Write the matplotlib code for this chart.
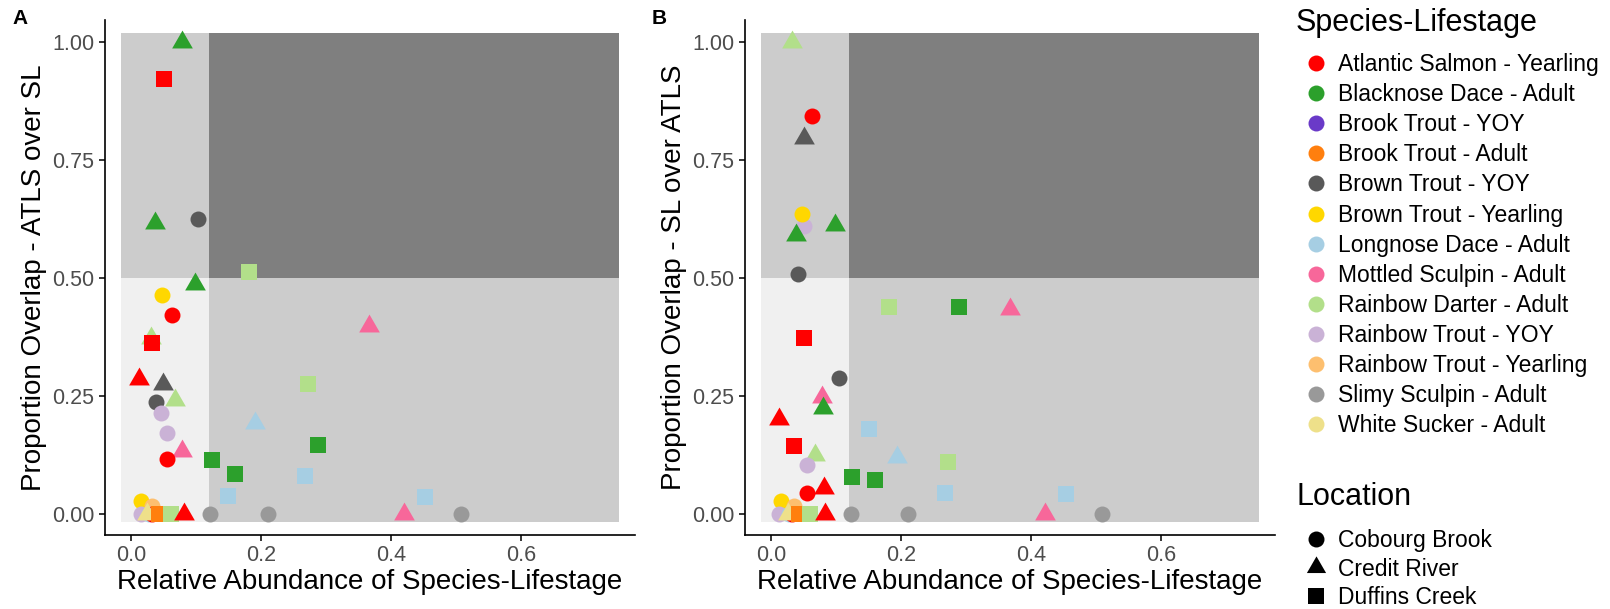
import numpy as np
import matplotlib
matplotlib.use("Agg")
from matplotlib import pyplot as plt
from matplotlib.path import Path
from matplotlib.lines import Line2D

plt.rcParams['font.family'] = ['Liberation Sans', 'DejaVu Sans']

# species-lifestage groups and their colours
groups = ['Atlantic Salmon - Yearling', 'Blacknose Dace - Adult', 'Brook Trout - YOY',
          'Brook Trout - Adult', 'Brown Trout - YOY', 'Brown Trout - Yearling',
          'Longnose Dace - Adult', 'Mottled Sculpin - Adult', 'Rainbow Darter - Adult',
          'Rainbow Trout - YOY', 'Rainbow Trout - Yearling', 'Slimy Sculpin - Adult',
          'White Sucker - Adult']
group_cols = ['#FF0000', '#2CA02C', '#6A3AC8', '#FF7F0E', '#595959', '#FFD700',
              '#A6CEE3', '#F7679A', '#B2DF8A', '#CAB2D6', '#FDBF6F', '#999999',
              '#EEE08A']
sites = ['Cobourg Brook', 'Credit River', 'Duffins Creek']

# group index, site index (0 Cobourg, 1 Credit, 2 Duffins), abundance, overlap
a_grp = [1, 0, 1, 4, 8, 1, 5, 0, 8, 0, 7, 0, 4, 8, 4, 8, 9, 9, 6, 1, 7, 0, 1, 1,
         6, 6, 5, 10, 9, 6, 0, 12, 3, 8, 0, 11, 11, 7, 6, 11]
a_site = [1, 2, 1, 0, 2, 1, 0, 0, 1, 2, 1, 1, 1, 2, 0, 1, 0, 0, 1, 2, 1, 0, 2, 2,
          2, 2, 0, 0, 0, 0, 0, 1, 2, 2, 1, 0, 0, 1, 2, 0]
a_x = [0.078, 0.050, 0.0375, 0.103, 0.181, 0.099, 0.047, 0.0625, 0.031, 0.033,
       0.366, 0.012, 0.049, 0.272, 0.039, 0.067, 0.046, 0.056, 0.191, 0.287,
       0.079, 0.055, 0.124, 0.160, 0.267, 0.149, 0.016, 0.033, 0.015, 0.028,
       0.033, 0.025, 0.0425, 0.0615, 0.082, 0.122, 0.210, 0.420, 0.452, 0.508]
a_y = [1.00, 0.922, 0.617, 0.625, 0.513, 0.486, 0.463, 0.421, 0.372, 0.361,
       0.397, 0.285, 0.274, 0.275, 0.237, 0.240, 0.213, 0.172, 0.192, 0.146,
       0.132, 0.115, 0.114, 0.085, 0.080, 0.0375, 0.027, 0.016, 0.0, 0.0,
       0.0, 0.0, 0.0, 0.0, 0.0, 0.0, 0.0, 0.0, 0.035, 0.0]

b_grp = [8, 0, 4, 9, 5, 1, 1, 4, 8, 1, 7, 0, 4, 7, 1, 0, 6, 0, 8, 6, 8, 9, 1, 1,
         0, 0, 6, 5, 10, 9, 6, 0, 12, 3, 8, 0, 11, 11, 7, 6, 11]
b_site = [1, 0, 1, 0, 0, 1, 1, 0, 2, 2, 1, 2, 0, 1, 1, 1, 2, 2, 1, 1, 2, 0, 2, 2,
          1, 0, 2, 0, 0, 0, 0, 0, 1, 2, 2, 1, 0, 0, 1, 2, 0]
b_x = [0.032, 0.063, 0.050, 0.051, 0.048, 0.038, 0.099, 0.041, 0.182, 0.289,
       0.367, 0.050, 0.104, 0.0785, 0.080, 0.0128, 0.150, 0.035, 0.067, 0.194,
       0.272, 0.056, 0.125, 0.160, 0.081, 0.056, 0.268, 0.016, 0.035, 0.013,
       0.028, 0.033, 0.026, 0.0425, 0.060, 0.0835, 0.123, 0.210, 0.422, 0.453,
       0.509]
b_y = [1.00, 0.843, 0.797, 0.610, 0.634, 0.590, 0.612, 0.508, 0.439, 0.439,
       0.434, 0.372, 0.287, 0.248, 0.224, 0.200, 0.179, 0.144, 0.124, 0.120,
       0.110, 0.103, 0.078, 0.071, 0.054, 0.045, 0.043, 0.027, 0.016, 0.0,
       0.0, 0.0, 0.0, 0.0, 0.0, 0.0, 0.0, 0.0, 0.0, 0.042, 0.0]

# background zones: abundance cut and overlap cut
x_cut, y_cut = 0.12, 0.5
zone_x = (-0.015, 0.75)
zone_y = (-0.017, 1.018)

# equilateral triangle centred on its centroid
tri = Path([(-1, -0.577), (1, -0.577), (0, 1.155), (-1, -0.577)], closed=True)
site_marker = ['o', tri, 's']
site_size = [132, 296, 144]

W, H = 1610, 609


def draw_panel(ax, grp, site, x, y, ylab):
    x0, x1 = zone_x
    y0, y1 = zone_y
    ax.fill_between([x0, x_cut], y0, y_cut, color='#F0F0F0', lw=0, zorder=0)
    ax.fill_between([x_cut, x1], y0, y_cut, color='#CCCCCC', lw=0, zorder=0)
    ax.fill_between([x0, x_cut], y_cut, y1, color='#CCCCCC', lw=0, zorder=0)
    ax.fill_between([x_cut, x1], y_cut, y1, color='#7F7F7F', lw=0, zorder=0)
    for g, s, xi, yi in zip(grp, site, x, y):
        ax.scatter(xi, yi, marker=site_marker[s], s=site_size[s],
                   color=group_cols[g], linewidths=0, zorder=2)
    ax.set_xlim(-0.040, 0.775)
    ax.set_ylim(-0.045, 1.046)
    ax.set_xticks([0.0, 0.2, 0.4, 0.6])
    ax.set_xticklabels(['0.0', '0.2', '0.4', '0.6'])
    ax.set_yticks([0, 0.25, 0.5, 0.75, 1.0])
    ax.set_yticklabels(['0.00', '0.25', '0.50', '0.75', '1.00'])
    ax.tick_params(labelsize=15.5, labelcolor='#4D4D4D', color='black',
                   length=4, width=1.1)
    for side in ['top', 'right']:
        ax.spines[side].set_visible(False)
    for side in ['left', 'bottom']:
        ax.spines[side].set_linewidth(1.2)
    ax.set_xlabel('Relative Abundance of Species-Lifestage', fontsize=20, labelpad=2)
    ax.set_ylabel(ylab, fontsize=20, labelpad=4)


fig = plt.figure(figsize=(W / 100, H / 100), dpi=100)
ax_a = fig.add_axes([105 / W, 1 - 535 / H, 530 / W, 515 / H])
ax_b = fig.add_axes([745 / W, 1 - 535 / H, 530 / W, 515 / H])
draw_panel(ax_a, a_grp, a_site, a_x, a_y, 'Proportion Overlap - ATLS over SL')
draw_panel(ax_b, b_grp, b_site, b_x, b_y, 'Proportion Overlap - SL over ATLS')
fig.text(12 / W, 1 - 9 / H, 'A', fontsize=15, fontweight='bold', va='top')
fig.text(652 / W, 1 - 9 / H, 'B', fontsize=15, fontweight='bold', va='top')

# legends
leg_font = 16.5
fig.text(1296 / W, 1 - 31 / H, 'Species-Lifestage', fontsize=22, va='baseline')
grp_handles = [Line2D([], [], marker='o', ls='', color=c, markersize=11.5,
                      markeredgewidth=0) for c in group_cols]
fig.legend(grp_handles, groups, loc='upper left',
           bbox_to_anchor=(1305 / W, 1 - 53 / H), frameon=False, fontsize=leg_font,
           labelspacing=0.31, handletextpad=0.46, handlelength=1.0,
           borderpad=0, borderaxespad=0)

fig.text(1296 / W, 1 - 505 / H, 'Location', fontsize=22, va='baseline')
site_handles = [Line2D([], [], marker=m, ls='', color='black', markersize=ms,
                       markeredgewidth=0)
                for m, ms in zip(site_marker, [11.5, 16, 11.5])]
fig.legend(site_handles, sites, loc='upper left',
           bbox_to_anchor=(1305 / W, 1 - 529 / H), frameon=False, fontsize=leg_font,
           labelspacing=0.24, handletextpad=0.46, handlelength=1.0,
           borderpad=0, borderaxespad=0)

fig.savefig('out.png', dpi=100)
